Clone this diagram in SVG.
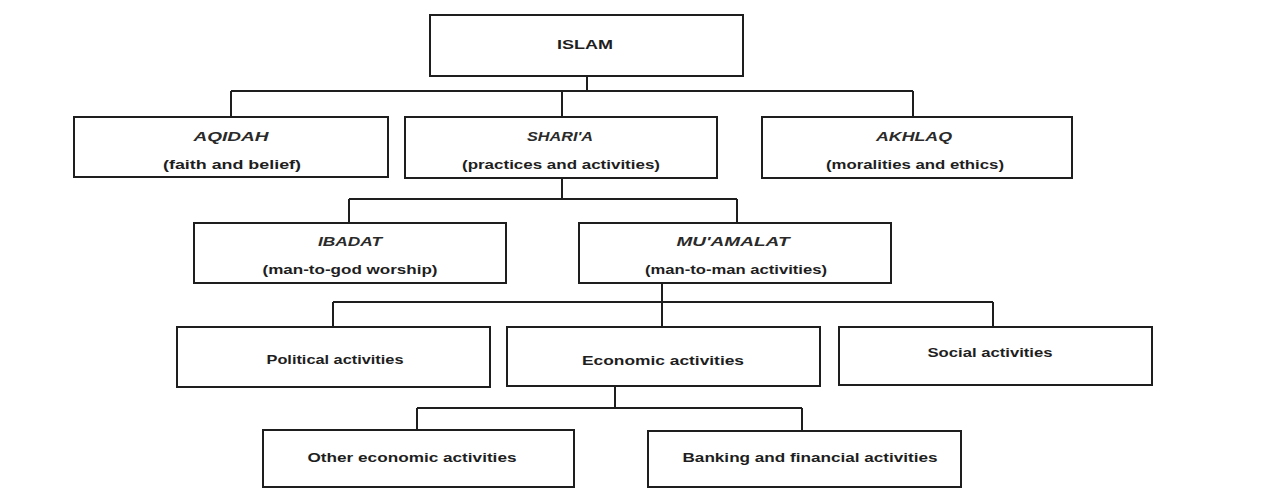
<svg xmlns="http://www.w3.org/2000/svg" width="1263" height="498" viewBox="0 0 1263 498">
<style>
.box{fill:#fff;stroke:#1e1e1e;stroke-width:2}
.ln{fill:none;stroke:#1e1e1e;stroke-width:2}
text{font-family:"Liberation Sans",Arial,sans-serif;font-size:12px;font-weight:bold;fill:#1e1e1e;text-anchor:middle}
.t{font-style:italic;fill:#2a2a2a}
</style>
<rect width="1263" height="498" fill="#fff"/>
<g id="connectors">
<path class="ln" d="M587 76V91M231 91H913M231 91V117M562 91V117M913 91V117"/>
<path class="ln" d="M562 178V199M349 199H737M349 199V223M737 199V223"/>
<path class="ln" d="M662 283V302M333 302H993M333 302V327M662 302V327M993 302V327"/>
<path class="ln" d="M615 386V408M417 408H802M417 408V430M802 408V431"/>
</g>
<g id="islam"><rect class="box" x="430" y="15" width="313" height="61"/><text x="585" y="49" textLength="56" lengthAdjust="spacingAndGlyphs">ISLAM</text></g>
<g id="aqidah"><rect class="box" x="74" y="117" width="314" height="60"/><text class="t" x="231" y="141" textLength="75" lengthAdjust="spacingAndGlyphs">AQIDAH</text><text x="232" y="169" textLength="138" lengthAdjust="spacingAndGlyphs">(faith and belief)</text></g>
<g id="sharia"><rect class="box" x="405" y="117" width="312" height="61"/><text class="t" x="560" y="141" textLength="66" lengthAdjust="spacingAndGlyphs">SHARI'A</text><text x="561" y="169" textLength="198" lengthAdjust="spacingAndGlyphs">(practices and activities)</text></g>
<g id="akhlaq"><rect class="box" x="762" y="117" width="310" height="61"/><text class="t" x="914" y="141" textLength="76" lengthAdjust="spacingAndGlyphs">AKHLAQ</text><text x="915" y="169" textLength="178" lengthAdjust="spacingAndGlyphs">(moralities and ethics)</text></g>
<g id="ibadat"><rect class="box" x="194" y="223" width="312" height="60"/><text class="t" x="350" y="246" textLength="64" lengthAdjust="spacingAndGlyphs">IBADAT</text><text x="350" y="274" textLength="175" lengthAdjust="spacingAndGlyphs">(man-to-god worship)</text></g>
<g id="muamalat"><rect class="box" x="579" y="223" width="312" height="60"/><text class="t" x="733" y="246" textLength="113" lengthAdjust="spacingAndGlyphs">MU'AMALAT</text><text x="736" y="274" textLength="182" lengthAdjust="spacingAndGlyphs">(man-to-man activities)</text></g>
<g id="political"><rect class="box" x="177" y="327" width="313" height="60"/><text x="335" y="364" textLength="137" lengthAdjust="spacingAndGlyphs">Political activities</text></g>
<g id="economic"><rect class="box" x="507" y="327" width="313" height="59"/><text x="663" y="365" textLength="162" lengthAdjust="spacingAndGlyphs">Economic activities</text></g>
<g id="social"><rect class="box" x="839" y="327" width="313" height="58"/><text x="990" y="357" textLength="125" lengthAdjust="spacingAndGlyphs">Social activities</text></g>
<g id="other"><rect class="box" x="263" y="430" width="311" height="57"/><text x="412" y="462" textLength="209" lengthAdjust="spacingAndGlyphs">Other economic activities</text></g>
<g id="banking"><rect class="box" x="648" y="431" width="313" height="56"/><text x="810" y="462" textLength="255" lengthAdjust="spacingAndGlyphs">Banking and financial activities</text></g>
</svg>
